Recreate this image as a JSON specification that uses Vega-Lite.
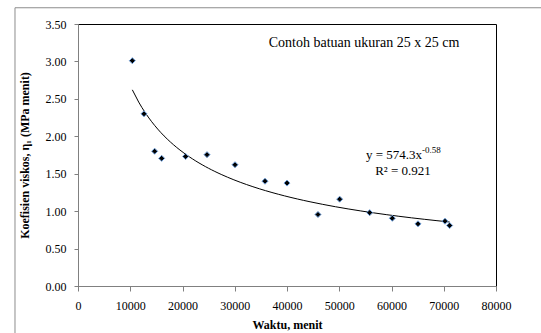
{
  "$schema": "https://vega.github.io/schema/vega-lite/v6.json",
  "autosize": {"type": "none"},
  "padding": {"left": 78, "top": 24, "right": 45, "bottom": 48},
  "width": 418,
  "height": 262,
  "background": "white",
  "config": {
    "font": "Liberation Serif",
    "text": {"font": "Liberation Serif"},
    "view": {"stroke": "#000000", "strokeWidth": 1},
    "axis": {
      "domainColor": "#808080",
      "tickColor": "#808080",
      "grid": false,
      "labelFont": "Liberation Serif",
      "labelFontSize": 12,
      "labelColor": "#000000",
      "titleFont": "Liberation Serif",
      "titleFontSize": 12,
      "titleFontWeight": "bold",
      "titleColor": "#000000"
    }
  },
  "datasets": {
    "pts": [
      {"t": 10400, "eta": 3.01},
      {"t": 12630, "eta": 2.30},
      {"t": 14670, "eta": 1.80},
      {"t": 16010, "eta": 1.705},
      {"t": 20600, "eta": 1.73},
      {"t": 24690, "eta": 1.755},
      {"t": 30050, "eta": 1.62},
      {"t": 35790, "eta": 1.40},
      {"t": 40000, "eta": 1.375},
      {"t": 45930, "eta": 0.955},
      {"t": 50080, "eta": 1.16},
      {"t": 55820, "eta": 0.98},
      {"t": 60150, "eta": 0.905},
      {"t": 65070, "eta": 0.83},
      {"t": 70240, "eta": 0.866},
      {"t": 71130, "eta": 0.808}
    ],
    "title": [{"t": 54740, "eta": 3.25, "txt": "Contoh batuan ukuran 25 x 25 cm"}],
    "eq": [{"t": 65450, "eta": 1.75, "txt": "y = 574.3x"}],
    "r2": [{"t": 62200, "eta": 1.535, "txt": "R² = 0.921"}],
    "sup": [{"t": 65450, "eta": 1.75, "txt": "-0.58"}],
    "frameV": [{"t": -12060, "eta": 3.717, "eta2": -1}],
    "frameH": [{"t": -12060, "t2": 110000, "eta": 3.717}]
  },
  "encoding": {
    "x": {
      "field": "t", "type": "quantitative",
      "scale": {"domain": [0, 80000], "nice": false, "zero": false},
      "axis": {"title": "Waktu, menit", "values": [0, 10000, 20000, 30000, 40000, 50000, 60000, 70000, 80000], "format": "d", "tickSize": 5, "labelPadding": 9, "titlePadding": 8, "labelFlush": false, "labelOverlap": false, "labelFont": "Liberation Serif", "titleFont": "Liberation Serif"}
    },
    "y": {
      "field": "eta", "type": "quantitative",
      "scale": {"domain": [0, 3.5], "nice": false, "zero": false},
      "axis": {"title": "Koefisien viskos, η₁ (MPa  menit)", "values": [0, 0.5, 1, 1.5, 2, 2.5, 3, 3.5], "format": ".2f", "tickSize": 4, "labelPadding": 8, "titlePadding": 14, "labelFlush": false, "labelOverlap": false, "labelFont": "Liberation Serif", "titleFont": "Liberation Serif"}
    }
  },
  "layer": [
    {
      "data": {"name": "pts"},
      "transform": [{"regression": "eta", "on": "t", "method": "pow"}],
      "mark": {"type": "line", "color": "#000000", "strokeWidth": 1}
    },
    {
      "data": {"name": "pts"},
      "mark": {"type": "point", "shape": "diamond", "filled": true, "fill": "#000000", "stroke": "#6fa0dc", "strokeWidth": 1, "size": 36, "opacity": 1}
    },
    {
      "data": {"name": "title"},
      "mark": {"type": "text", "font": "Liberation Serif", "fontSize": 14, "color": "#000000", "align": "center", "baseline": "middle"},
      "encoding": {"text": {"field": "txt"}}
    },
    {
      "data": {"name": "eq"},
      "mark": {"type": "text", "font": "Liberation Serif", "fontSize": 13, "color": "#000000", "align": "right", "baseline": "middle", "dx": 2},
      "encoding": {"text": {"field": "txt"}}
    },
    {
      "data": {"name": "r2"},
      "mark": {"type": "text", "font": "Liberation Serif", "fontSize": 13, "color": "#000000", "align": "center", "baseline": "middle"},
      "encoding": {"text": {"field": "txt"}}
    },
    {
      "data": {"name": "sup"},
      "mark": {"type": "text", "font": "Liberation Serif", "fontSize": 9, "color": "#000000", "align": "left", "baseline": "middle", "dy": -5, "dx": 2},
      "encoding": {"text": {"field": "txt"}}
    },
    {
      "data": {"name": "frameV"},
      "mark": {"type": "rule", "stroke": "#8c8c8c", "strokeWidth": 1, "clip": false, "invalid": null},
      "encoding": {"y2": {"field": "eta2"}}
    },
    {
      "data": {"name": "frameH"},
      "mark": {"type": "rule", "stroke": "#8c8c8c", "strokeWidth": 1, "clip": false, "invalid": null},
      "encoding": {"x2": {"field": "t2"}}
    }
  ]
}
